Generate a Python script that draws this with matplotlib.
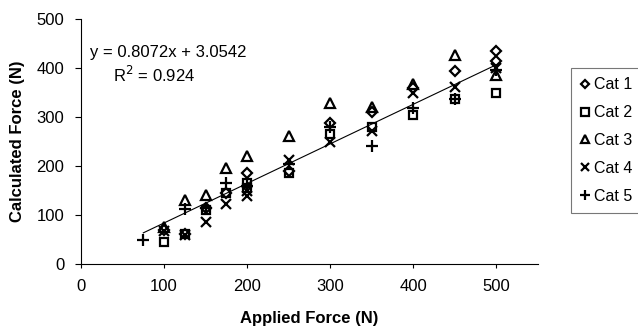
import numpy as np
import matplotlib
matplotlib.use("Agg")
import matplotlib.pyplot as plt

plt.rcParams['font.family'] = ['Liberation Sans', 'DejaVu Sans']

# data
cat1_x = [100, 125, 150, 175, 200, 250, 300, 350, 400, 450, 500, 500]
cat1_y = [70, 62, 115, 145, 185, 190, 288, 310, 360, 394, 415, 435]
cat2_x = [100, 125, 150, 175, 200, 200, 250, 300, 350, 400, 450, 500]
cat2_y = [45, 62, 110, 145, 155, 165, 185, 265, 280, 305, 337, 348]
cat3_x = [100, 125, 150, 175, 200, 250, 300, 350, 400, 450, 500]
cat3_y = [75, 130, 140, 195, 220, 262, 328, 320, 367, 427, 386]
cat4_x = [100, 125, 150, 175, 200, 200, 250, 300, 350, 400, 450, 500]
cat4_y = [68, 60, 85, 122, 138, 150, 212, 248, 272, 349, 361, 400]
cat5_x = [75, 125, 150, 175, 200, 250, 300, 350, 400, 450, 500]
cat5_y = [48, 112, 115, 165, 160, 205, 280, 240, 318, 337, 395]

slope = 0.8072
intercept = 3.0542
r2 = 0.924
fit_range = [75, 500]

series = [
    ("Cat 1", cat1_x, cat1_y, "D", 5),
    ("Cat 2", cat2_x, cat2_y, "s", 6),
    ("Cat 3", cat3_x, cat3_y, "^", 6.5),
    ("Cat 4", cat4_x, cat4_y, "x", 7),
    ("Cat 5", cat5_x, cat5_y, "+", 8),
]

fig = plt.figure(figsize=(6.38, 3.31), dpi=100)
ax = fig.add_axes([0.127, 0.2024, 0.716, 0.7402])

handles = []
for name, xs, ys, m, ms in series:
    h, = ax.plot(xs, ys, linestyle='none', marker=m, markersize=ms,
                 markerfacecolor='none', markeredgecolor='black',
                 markeredgewidth=1.6, label=name)
    handles.append(h)

fx = np.array(fit_range)
ax.plot(fx, slope * fx + intercept, color='black', lw=0.8)

ax.set_xlim(0, 550)
ax.set_ylim(0, 500)
ax.set_xticks(range(0, 501, 100))
ax.set_yticks(range(0, 501, 100))
ax.spines['top'].set_visible(False)
ax.spines['right'].set_visible(False)
ax.tick_params(labelsize=12, length=4, width=0.8, pad=8)
ax.tick_params(axis='x', length=3, pad=8)

ax.set_xlabel("Applied Force (N)", fontsize=12, fontweight='bold', labelpad=12)
ax.set_ylabel("Calculated Force (N)", fontsize=12, fontweight='bold', labelpad=8)

ax.text(0.02, 0.865, f"y = {slope}x + {intercept}", transform=ax.transAxes,
        fontsize=12, ha='left', va='center')
ax.text(0.16, 0.77, f"R$^2$ = {r2}", transform=ax.transAxes,
        fontsize=12, ha='center', va='center')

leg = fig.legend(handles=handles, loc='upper left', bbox_to_anchor=(0.895, 0.795),
                 fontsize=11.5, frameon=True, fancybox=False, edgecolor='#555555',
                 handlelength=0.5, handletextpad=0.35, labelspacing=0.8,
                 borderpad=0.6, borderaxespad=0, markerscale=0.85)
leg.get_frame().set_linewidth(0.8)

fig.savefig("out.png", dpi=100)
